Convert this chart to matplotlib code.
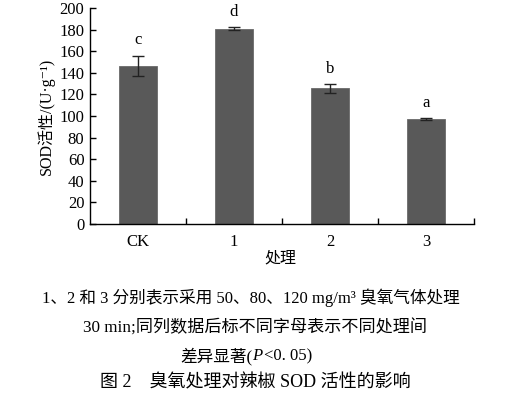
import matplotlib.pyplot as plt
import numpy as np

plt.rcParams['font.family'] = ['Liberation Serif', 'Noto Sans CJK SC', 'DejaVu Serif']

# data
categories = ["CK", "1", "2", "3"]
sod = [146.5, 181.0, 125.5, 97.0]
err = [9.0, 1.0, 4.0, 1.0]
letters = ["c", "d", "b", "a"]

fig = plt.figure(figsize=(5.17, 3.97), dpi=100)
ax = fig.add_axes([90 / 517, (397 - 224) / 397, (474 - 90) / 517, (224 - 8) / 397])

x = np.arange(len(categories))
ax.bar(x, sod, width=0.4, color="#595959", edgecolor="#6a6a6a", linewidth=0.6,
       yerr=err, error_kw=dict(ecolor="#222222", elinewidth=1.0, capsize=4, capthick=1.0))
for xi, v, e, lab in zip(x, sod, err, letters):
    ax.text(xi, v + e + 7, lab, ha="center", va="bottom", fontsize=12)

ax.set_xlim(-0.5, 3.5)
ax.set_ylim(0, 200)
ax.set_yticks(np.arange(0, 201, 20))
ax.set_xticks(x)
ax.set_xticklabels(categories)
ax.set_xticks(np.arange(0.5, 3.6, 1.0), minor=True)
ax.tick_params(axis="x", which="major", length=0, pad=7, labelsize=12)
ax.tick_params(axis="x", which="minor", direction="in", length=4, width=1)
ax.tick_params(axis="y", direction="in", length=4, width=1, labelsize=12, pad=4)
for s in ["top", "right"]:
    ax.spines[s].set_visible(False)
for s in ["left", "bottom"]:
    ax.spines[s].set_linewidth(1.0)

ax.set_ylabel("SOD活性/(U·g⁻¹)", fontsize=11.5, labelpad=3)
fig.text(280 / 517, 1 - 258 / 397, "处理", ha="center", va="center", fontsize=11.5)

fig.text(251 / 517, 1 - 298 / 397,
         "1、2 和 3 分别表示采用 50、80、120 mg/m³ 臭氧气体处理",
         ha="center", va="center", fontsize=12)
fig.text(255 / 517, 1 - 328 / 397, "30 min;同列数据后标不同字母表示不同处理间",
         ha="center", va="center", fontsize=12.3)
t1 = fig.text(252 / 517, 1 - 356 / 397, "差异显著(", ha="right", va="center", fontsize=12)
t2 = fig.text(252 / 517, 1 - 356 / 397, "P", ha="left", va="center", fontsize=12,
              style="italic")
fig.canvas.draw()
bb = t2.get_window_extent()
fig.text(bb.x1 / fig.bbox.width + 2 / 517, 1 - 356 / 397, "<0. 05)", ha="left",
         va="center", fontsize=12)
fig.text(255 / 517, 1 - 383 / 397, "图 2    臭氧处理对辣椒 SOD 活性的影响",
         ha="center", va="center", fontsize=13)

fig.savefig("out.png", dpi=100, facecolor="white")
